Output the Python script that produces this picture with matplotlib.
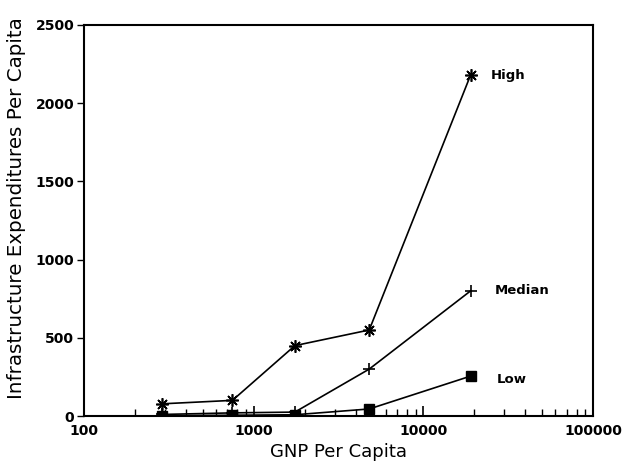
import matplotlib
matplotlib.use("Agg")
import matplotlib.pyplot as plt
from matplotlib.ticker import LogLocator, NullFormatter, FixedLocator

gnp = [290, 750, 1750, 4800, 19000]
high = [78, 100, 450, 550, 2180]
median = [10, 20, 25, 300, 800]
low = [2, 5, 8, 45, 255]
series_labels = ["High", "Median", "Low"]

plt.rcParams['font.family'] = ['DejaVu Sans']
fig = plt.figure(figsize=(6.23, 4.68), dpi=100)
ax = fig.add_axes([0.1348, 0.1111, 0.8170, 0.8355])

ax.plot(gnp, high, color='black', lw=1.2, marker=(8, 2, 0), ms=9, mew=1.2)
ax.plot(gnp, median, color='black', lw=1.2, marker='+', ms=9, mew=1.2)
ax.plot(gnp, low, color='black', lw=1.2, marker='s', ms=7)

ax.set_xscale('log')
ax.set_xlim(100, 100000)
ax.set_ylim(0, 2500)
ax.xaxis.set_major_locator(FixedLocator([100, 1000, 10000, 100000]))
ax.xaxis.set_major_formatter(plt.FuncFormatter(lambda v, p: f"{int(v)}"))
ax.xaxis.set_minor_locator(LogLocator(base=10, subs=range(2, 10)))
ax.xaxis.set_minor_formatter(NullFormatter())
ax.set_yticks([0, 500, 1000, 1500, 2000, 2500])

ax.tick_params(axis='x', which='major', direction='in', length=7, width=1.2, labelsize=10, pad=6)
ax.tick_params(axis='x', which='minor', direction='in', length=5, width=1.0)
ax.tick_params(axis='y', direction='out', length=5, width=1.0, labelsize=10, pad=2)
for lab in ax.get_xticklabels() + ax.get_yticklabels():
    lab.set_fontweight('bold')
for s in ax.spines.values():
    s.set_linewidth(1.5)

ax.text(gnp[-1] * 1.31, high[-1], series_labels[0], fontsize=9.5, fontweight='bold', va='center')
ax.text(gnp[-1] * 1.38, median[-1], series_labels[1], fontsize=9.5, fontweight='bold', va='center')
ax.text(gnp[-1] * 1.42, low[-1] - 20, series_labels[2], fontsize=9.5, fontweight='bold', va='center')

ax.set_xlabel("GNP Per Capita", fontsize=13, labelpad=3)
fig.text(0.026, 0.555, "Infrastructure Expenditures Per Capita", rotation=90,
         fontsize=14.3, ha='center', va='center')

fig.savefig("out.png", dpi=100)
